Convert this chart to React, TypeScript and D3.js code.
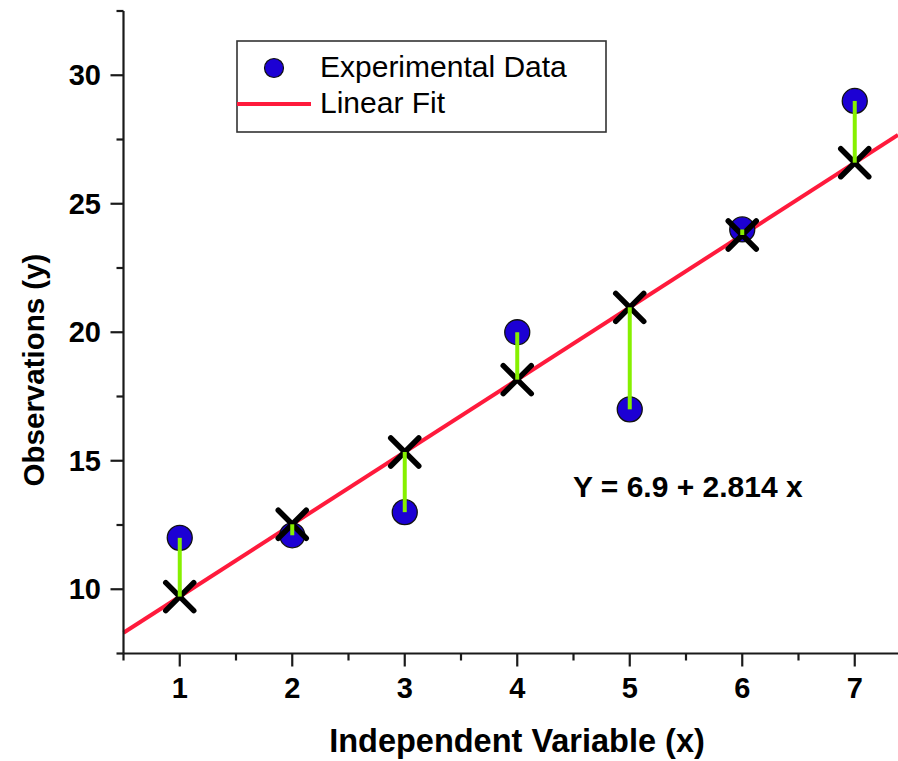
import React from "react";
import * as d3 from "d3";

const xValues = [1, 2, 3, 4, 5, 6, 7];
const yObserved = [12, 12.1, 13, 20, 17, 24, 29];
const fitIntercept = 6.9;
const fitSlope = 2.814;
const xMajorTicks = [1, 2, 3, 4, 5, 6, 7];
const xMinorTicks = [0.5, 1.5, 2.5, 3.5, 4.5, 5.5, 6.5, 7.5];
const yMajorTicks = [10, 15, 20, 25, 30];
const yMinorTicks = [7.5, 12.5, 17.5, 22.5, 27.5, 32.5];
const legendLabels = ["Experimental Data", "Linear Fit"];
const equationLabel = "Y = 6.9 + 2.814 x";
const xTitle = "Independent Variable (x)";
const yTitle = "Observations (y)";

const W = 898;
const H = 761;
const FONT = "'Liberation Sans', Arial, Helvetica, sans-serif";

export default function App() {
  const x = d3.scaleLinear().domain([0.5, 7.5]).range([123.5, 123.5 + 7 * 112.5]);
  const y = d3.scaleLinear().domain([7.5, 32.5]).range([653.5, 11]);
  const xAxisY = y(7.5);
  const yAxisX = x(0.5);
  const xEnd = x.invert(W);
  const fit = (v: number) => fitIntercept + fitSlope * v;
  const line = d3.line<number>().x((d) => x(d)).y((d) => y(fit(d)));
  const axisColor = "#1a1a1a";
  const red = "#ff1a3c";
  const green = "#86f000";
  const blue = "#1c00d4";
  const xm = 14;

  return (
    <svg
      width={W}
      height={H}
      style={{ position: "absolute", left: 0, top: 0, background: "#fff" }}
    >
      <rect x={0} y={0} width={W} height={H} fill="#fff" />
      {/* fit line */}
      <path d={line([0.5, xEnd]) || ""} stroke={red} strokeWidth={4} fill="none" />
      {/* data circles */}
      {xValues.map((v, i) => (
        <circle key={"c" + i} cx={x(v)} cy={y(yObserved[i])} r={12.5} fill={blue} stroke="#111" strokeWidth={1.3} />
      ))}
      {/* fitted markers */}
      {xValues.map((v, i) => {
        const cx = x(v);
        const cy = y(fit(v));
        return (
          <g key={"x" + i} stroke="#000" strokeWidth={5.5} strokeLinecap="round">
            <line x1={cx - xm} y1={cy - xm} x2={cx + xm} y2={cy + xm} />
            <line x1={cx - xm} y1={cy + xm} x2={cx + xm} y2={cy - xm} />
          </g>
        );
      })}
      {/* residuals */}
      {xValues.map((v, i) => (
        <line key={"r" + i} x1={x(v)} x2={x(v)} y1={y(yObserved[i])} y2={y(fit(v))} stroke={green} strokeWidth={4} />
      ))}
      {/* axes */}
      <line x1={yAxisX} x2={W} y1={xAxisY} y2={xAxisY} stroke={axisColor} strokeWidth={2.2} />
      <line x1={yAxisX} x2={yAxisX} y1={y(32.5)} y2={xAxisY} stroke={axisColor} strokeWidth={2.2} />
      {xMajorTicks.map((t) => (
        <g key={"xt" + t}>
          <line x1={x(t)} x2={x(t)} y1={xAxisY} y2={xAxisY + 13} stroke={axisColor} strokeWidth={2.2} />
          <text x={x(t)} y={698} textAnchor="middle" fontFamily={FONT} fontWeight="bold" fontSize={29} fill="#000">
            {t}
          </text>
        </g>
      ))}
      {xMinorTicks.map((t) => (
        <line key={"xm" + t} x1={x(t)} x2={x(t)} y1={xAxisY} y2={xAxisY + 7} stroke={axisColor} strokeWidth={2.2} />
      ))}
      {yMajorTicks.map((t) => (
        <g key={"yt" + t}>
          <line x1={yAxisX - 13} x2={yAxisX} y1={y(t)} y2={y(t)} stroke={axisColor} strokeWidth={2.2} />
          <text x={101} y={y(t) + 10} textAnchor="end" fontFamily={FONT} fontWeight="bold" fontSize={29} fill="#000">
            {t}
          </text>
        </g>
      ))}
      {yMinorTicks.map((t) => (
        <line key={"ym" + t} x1={yAxisX - 7} x2={yAxisX} y1={y(t)} y2={y(t)} stroke={axisColor} strokeWidth={2.2} />
      ))}
      {/* titles */}
      <text x={517} y={752} textAnchor="middle" fontFamily={FONT} fontWeight="bold" fontSize={32.5} fill="#000">
        {xTitle}
      </text>
      <text
        transform={`translate(44, 370) rotate(-90)`}
        textAnchor="middle"
        fontFamily={FONT}
        fontWeight="bold"
        fontSize={29.5}
        fill="#000"
      >
        {yTitle}
      </text>
      {/* equation */}
      <text x={573} y={497} fontFamily={FONT} fontWeight="bold" fontSize={30} fill="#000">
        {equationLabel}
      </text>
      {/* legend */}
      <rect x={237} y={41} width={369} height={91} fill="#fff" stroke="#333" strokeWidth={1.6} />
      <circle cx={274} cy={68} r={9.5} fill={blue} stroke="#111" strokeWidth={1.2} />
      <line x1={237} x2={311} y1={104} y2={104} stroke={red} strokeWidth={4} />
      <text x={320} y={77} fontFamily={FONT} fontSize={30} fill="#000">
        {legendLabels[0]}
      </text>
      <text x={320} y={113} fontFamily={FONT} fontSize={30} fill="#000">
        {legendLabels[1]}
      </text>
    </svg>
  );
}
